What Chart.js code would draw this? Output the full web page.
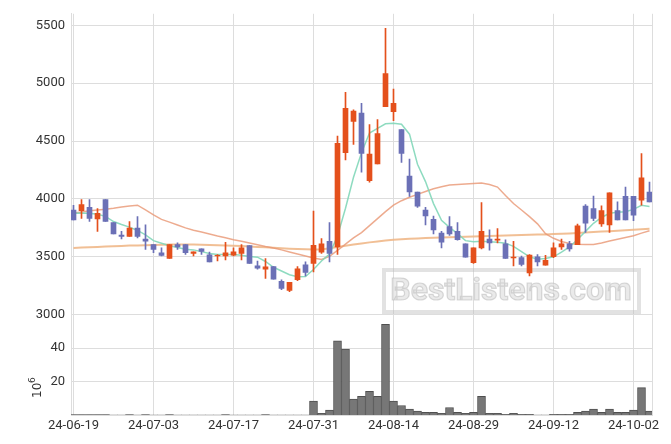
<!DOCTYPE html>
<html>
<head>
<meta charset="utf-8">
<script src="https://cdn.jsdelivr.net/npm/chart.js@4.4.1/dist/chart.umd.min.js"></script>
<style>
  body { margin: 0; background: #fff; }
  #wrap { position: relative; width: 671px; height: 444px; }
</style>
</head>
<body>
<div id="wrap"><canvas id="priceChart" width="671" height="444"></canvas></div>
<script>
// trading days (KRX), one per candle
const dates = [
  '24-06-19','24-06-20','24-06-21','24-06-24','24-06-25','24-06-26','24-06-27','24-06-28',
  '24-07-01','24-07-02','24-07-03','24-07-04','24-07-05','24-07-08','24-07-09','24-07-10',
  '24-07-11','24-07-12','24-07-15','24-07-16','24-07-17','24-07-18','24-07-19','24-07-22',
  '24-07-23','24-07-24','24-07-25','24-07-26','24-07-29','24-07-30','24-07-31','24-08-01',
  '24-08-02','24-08-05','24-08-06','24-08-07','24-08-08','24-08-09','24-08-12','24-08-13',
  '24-08-14','24-08-16','24-08-19','24-08-20','24-08-21','24-08-22','24-08-23','24-08-26',
  '24-08-27','24-08-28','24-08-29','24-08-30','24-09-02','24-09-03','24-09-04','24-09-05',
  '24-09-06','24-09-09','24-09-10','24-09-11','24-09-12','24-09-13','24-09-19','24-09-20',
  '24-09-23','24-09-24','24-09-25','24-09-26','24-09-27','24-09-30','24-10-02','24-10-04',
  '24-10-07'
];

const opens = [
  3904,3899,3927,3827,3995,3796,3688,3677,3748,3654,3606,3535,3486,3606,3606,3529,
  3569,3518,3507,3507,3515,3529,3597,3422,3393,3416,3288,3209,3302,3430,3444,3541,
  3635,3586,4401,4670,4742,4159,4302,4798,4755,4600,4197,4060,3904,3824,3705,3762,
  3720,3612,3450,3577,3654,3643,3612,3490,3493,3360,3501,3427,3501,3586,3612,3606,
  3938,3918,3784,3776,3899,4023,4023,3989,4060
];
const highs = [
  3946,3995,3995,3918,3995,3796,3720,3805,3847,3776,3606,3577,3606,3620,3606,3543,
  3569,3541,3520,3626,3577,3606,3597,3464,3484,3416,3302,3279,3416,3456,3895,3657,
  3796,4543,4921,4770,4827,4642,4685,5474,4949,4600,4344,4060,3927,3853,3720,3847,
  3796,3612,3577,3969,3733,3745,3648,3635,3507,3520,3520,3512,3620,3654,3635,3782,
  3952,4026,3941,4052,3975,4103,4023,4393,4146
];
const lows = [
  3819,3833,3805,3720,3805,3699,3654,3677,3663,3563,3535,3507,3486,3563,3520,3507,
  3520,3456,3464,3473,3507,3473,3444,3393,3313,3307,3217,3200,3294,3336,3370,3529,
  3456,3520,4338,4472,4231,4146,4302,4798,4676,4316,4023,3927,3776,3699,3577,3686,
  3643,3498,3444,3569,3558,3620,3486,3422,3422,3336,3422,3427,3493,3563,3549,3606,
  3711,3813,3762,3711,3819,3819,3813,3946,3975
];
const closes = [
  3819,3952,3833,3876,3805,3699,3677,3748,3677,3635,3563,3512,3606,3586,3535,3543,
  3546,3456,3512,3535,3543,3577,3444,3401,3413,3307,3228,3279,3396,3365,3600,3612,
  3529,4480,4784,4759,4393,4387,4566,5083,4827,4393,4060,3938,3853,3733,3626,3697,
  3648,3498,3577,3720,3620,3654,3486,3498,3435,3515,3456,3469,3577,3612,3569,3767,
  3790,3833,3899,4052,3819,3819,3861,4182,3975
];

// volume, millions
const volumes = [
  0.3,0.3,0.3,0.3,0.3,0,0,0.3,0,0.3,0,0,0.3,0,0,0,
  0,0,0,0.3,0,0,0,0,0.3,0,0,0,0,0,8.3,1.0,
  3.0,44.4,39.5,9.5,11.1,14.2,11.1,54.3,8.3,5.7,3.6,2.4,1.6,1.6,1.0,4.5,
  1.6,1.0,1.6,11.1,1.0,1.0,0.4,1.0,0.4,0.4,0,0,0.4,0.4,0.4,1.6,
  2.4,3.6,1.6,3.6,1.6,1.6,3.0,16.4,2.4
];

// moving averages
const maShort = [
  3876,3878,3877,3868,3850,3805,3780,3757,3728,3690,3640,3618,3596,3580,3565,3560,
  3545,3528,3520,3520,3520,3513,3503,3497,3460,3410,3378,3345,3328,3330,3390,3464,
  3525,3680,3920,4188,4400,4570,4610,4650,4655,4645,4560,4300,4150,3960,3815,3755,
  3700,3640,3630,3635,3630,3625,3618,3590,3545,3500,3480,3485,3500,3540,3585,3650,
  3720,3790,3840,3876,3885,3890,3910,3946,3935
];
const maMid = [
  3878,3888,3898,3905,3912,3920,3930,3940,3946,3905,3862,3824,3800,3775,3750,3730,
  3715,3698,3680,3664,3648,3634,3620,3605,3590,3577,3560,3542,3525,3507,3490,3478,
  3505,3555,3610,3663,3710,3770,3830,3890,3946,3985,4015,4040,4065,4088,4105,4120,
  4126,4130,4133,4137,4125,4103,4030,3961,3905,3847,3785,3700,3660,3632,3615,3608,
  3606,3606,3620,3637,3652,3667,3682,3705,3725
];
const maLong = [
  3577,3580,3583,3586,3589,3591,3594,3597,3599,3601,3603,3605,3606,3606,3606,3606,
  3604,3602,3600,3598,3596,3593,3590,3586,3582,3578,3574,3570,3567,3565,3563,3563,
  3575,3585,3596,3606,3615,3625,3633,3641,3648,3652,3656,3659,3662,3665,3667,3669,
  3671,3673,3675,3677,3680,3682,3684,3686,3688,3690,3692,3694,3697,3699,3702,3706,
  3710,3714,3718,3722,3726,3730,3734,3738,3742
];

const priceTicks = [3000, 3500, 4000, 4500, 5000, 5500];
const volumeTicks = [20, 40];
const dateTicks = [0, 10, 20, 30, 40, 50, 60, 70];

const UP = '#e4501c';
const DOWN = '#6b70b6';
const GRID = '#dddddd';
const TICK_FONT = { family: 'Roboto', size: 13 };

const candleColors = opens.map((o, i) => closes[i] >= o ? UP : DOWN);
const pts = arr => arr.map((v, i) => ({ x: i, y: v }));

// draws right frame edge, watermark and the 10^6 label
const decorations = {
    id: 'decorations',
    beforeDatasetsDraw(chart) {
        const ctx = chart.ctx;
        const area = chart.chartArea;
        ctx.save();
        ctx.strokeStyle = GRID;
        ctx.lineWidth = 1;
        ctx.beginPath();
        ctx.moveTo(Math.round(area.right) + 0.5, area.top);
        ctx.lineTo(Math.round(area.right) + 0.5, area.bottom);
        ctx.stroke();

        // watermark
        ctx.strokeStyle = 'rgba(190,190,190,0.45)';
        ctx.lineWidth = 4;
        ctx.strokeRect(384, 270, 255, 42);
        ctx.font = 'bold 32px Roboto';
        ctx.textAlign = 'center';
        ctx.textBaseline = 'middle';
        ctx.fillStyle = 'rgba(225,225,225,0.7)';
        ctx.fillText('BestListens.com', 511, 292);
        ctx.strokeStyle = 'rgba(175,175,175,0.45)';
        ctx.lineWidth = 1.2;
        ctx.strokeText('BestListens.com', 511, 292);
        ctx.restore();
    },
    afterDraw(chart) {
        const ctx = chart.ctx;
        ctx.save();
        ctx.translate(41, 390);
        ctx.rotate(-Math.PI / 2);
        ctx.fillStyle = '#333';
        ctx.textBaseline = 'alphabetic';
        ctx.textAlign = 'left';
        ctx.font = '12px "DejaVu Sans"';
        ctx.fillText('10', -8, 0);
        ctx.font = '9px "DejaVu Sans"';
        ctx.fillText('6', 7, -6);
        ctx.restore();
    }
};

new Chart(document.getElementById('priceChart'), {
    type: 'bar',
    data: {
        datasets: [
            {
                label: 'body',
                data: opens.map((o, i) => ({ x: i, y: [o, closes[i]] })),
                backgroundColor: candleColors,
                barThickness: 5,
                grouped: false,
                order: 0,
                yAxisID: 'y'
            },
            {
                label: 'wick',
                data: lows.map((l, i) => ({ x: i, y: [l, highs[i]] })),
                backgroundColor: candleColors,
                barThickness: 1,
                grouped: false,
                order: 1,
                yAxisID: 'y'
            },
            {
                type: 'line',
                label: 'MA short',
                data: pts(maShort),
                borderColor: 'rgba(130,215,185,0.9)',
                borderWidth: 1.5,
                pointRadius: 0,
                order: 2,
                yAxisID: 'y'
            },
            {
                type: 'line',
                label: 'MA mid',
                data: pts(maMid),
                borderColor: 'rgba(232,150,115,0.8)',
                borderWidth: 1.5,
                pointRadius: 0,
                order: 3,
                yAxisID: 'y'
            },
            {
                type: 'line',
                label: 'MA long',
                data: pts(maLong),
                borderColor: 'rgba(238,180,130,0.85)',
                borderWidth: 2,
                pointRadius: 0,
                order: 4,
                yAxisID: 'y'
            },
            {
                label: 'volume',
                data: pts(volumes),
                backgroundColor: '#777777',
                borderColor: '#4f4f4f',
                borderWidth: ctx => (ctx.raw && ctx.raw.y > 0 ? 1 : 0),
                barPercentage: 1,
                categoryPercentage: 1,
                grouped: false,
                order: 5,
                yAxisID: 'vol'
            }
        ]
    },
    options: {
        responsive: false,
        animation: false,
        layout: { padding: { top: 7.5, right: 19, bottom: 0, left: 0 } },
        plugins: {
            legend: { display: false },
            tooltip: { enabled: false }
        },
        scales: {
            x: {
                type: 'linear',
                offset: false,
                min: -0.3125,
                max: 72.3125,
                afterBuildTicks: scale => { scale.ticks = dateTicks.map(v => ({ value: v })); },
                afterFit: scale => { scale.height = 29; },
                ticks: {
                    callback: v => dates[v],
                    autoSkip: false,
                    maxRotation: 0,
                    padding: 3,
                    color: '#333',
                    font: TICK_FONT
                },
                grid: { color: GRID, drawTicks: false, offset: false },
                border: { color: GRID }
            },
            y: {
                type: 'linear',
                position: 'left',
                stack: 'panels',
                stackWeight: 3,
                weight: 2,
                min: 3000,
                max: 5600,
                afterBuildTicks: scale => { scale.ticks = priceTicks.map(v => ({ value: v })); },
                afterFit: scale => { scale.width = 71; },
                ticks: { padding: 6, color: '#333', font: TICK_FONT, callback: v => String(v) },
                grid: { color: GRID, drawTicks: false },
                border: { color: GRID }
            },
            vol: {
                type: 'linear',
                position: 'left',
                stack: 'panels',
                stackWeight: 1,
                weight: 1,
                min: 0,
                max: 60,
                afterBuildTicks: scale => { scale.ticks = volumeTicks.map(v => ({ value: v })); },
                afterFit: scale => { scale.width = 71; },
                ticks: { padding: 6, color: '#333', font: TICK_FONT, callback: v => String(v) },
                grid: { color: GRID, drawTicks: false },
                border: { color: GRID }
            }
        }
    },
    plugins: [decorations]
});
</script>
</body>
</html>
